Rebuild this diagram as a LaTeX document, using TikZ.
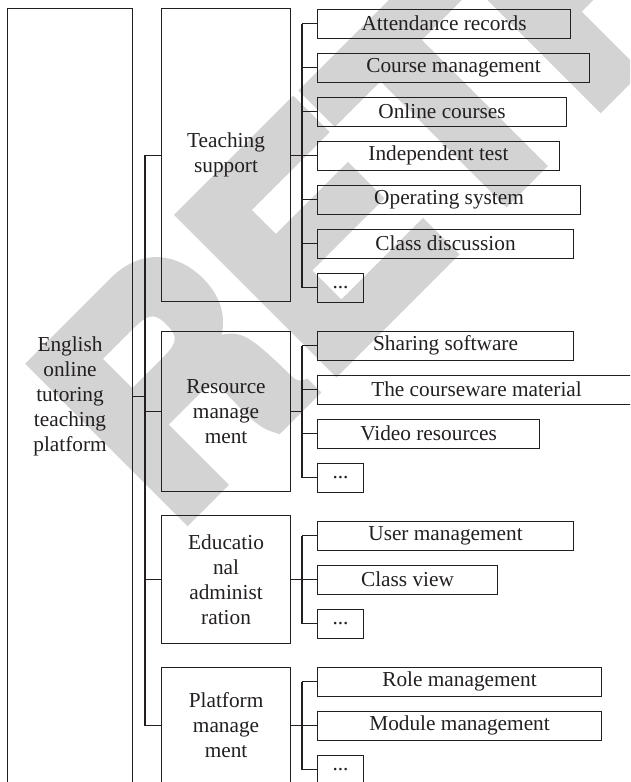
\documentclass[tikz,border=0pt]{standalone}
\usepackage{graphicx}
\usepackage{fontspec}
\setmainfont{Liberation Serif}
\newfontfamily\stampfont{texgyreheros-bold.otf}[FakeBold=5]
\definecolor{stamp}{RGB}{211,211,211}
\definecolor{ink}{RGB}{35,31,32}
\begin{document}
\begin{tikzpicture}[x=1pt,y=-1pt,
  box/.style={draw=ink, line width=1.1pt, inner sep=0pt, anchor=north west,
    font=\fontsize{21.3}{25}\selectfont, text=ink, align=center},
  leaf/.style={box, minimum height=29pt},
  link/.style={draw=ink, line width=1.1pt}]
\useasboundingbox (0,0) rectangle (630,782);
\clip (0,0) rectangle (630,782);

% background stamp
\node[rotate=45, anchor=base west, inner sep=0pt, text=stamp,
  font=\stampfont\fontsize{295}{295}\selectfont] (stampword) at (171,532.5)
  {\scalebox{0.99}[1]{RETRACTED}};

% root
\node[box, minimum width=125pt, minimum height=776pt] (root) at (7,8)
  {English\\online\\tutoring\\teaching\\platform};

% second level
\node[box, minimum width=129pt, minimum height=293pt] (teach) at (161,8) {Teaching\\support};
\node[box, minimum width=129pt, minimum height=160pt] (res) at (161,331) {Resource\\manage\\ment};
\node[box, minimum width=129pt, minimum height=128pt] (edu) at (161,515) {Educatio\\nal\\administ\\ration};
\node[box, minimum width=129pt, minimum height=116pt] (plat) at (161,667) {Platform\\manage\\ment};

% leaves: teaching support
\node[leaf, minimum width=253pt] (t1) at (317,8.5) {Attendance records};
\node[leaf, minimum width=272pt] (t2) at (317,52.5) {Course management};
\node[leaf, minimum width=249pt] (t3) at (317,96.5) {Online courses};
\node[leaf, minimum width=242pt] (t4) at (317,140.5) {Independent test};
\node[leaf, minimum width=263pt] (t5) at (317,184.5) {Operating system};
\node[leaf, minimum width=256pt] (t6) at (317,228.5) {Class discussion};
\node[leaf, minimum width=46pt] (t7) at (317,272.5) {...};

% leaves: resource management
\node[leaf, minimum width=256pt] (r1) at (317,330.5) {Sharing software};
\node[leaf, minimum width=318pt] (r2) at (317,374.5) {The courseware material};
\node[leaf, minimum width=222pt] (r3) at (317,418.5) {Video resources};
\node[leaf, minimum width=46pt] (r4) at (317,462.5) {...};

% leaves: educational administration
\node[leaf, minimum width=256pt] (e1) at (317,520.5) {User management};
\node[leaf, minimum width=180pt] (e2) at (317,564.5) {Class view};
\node[leaf, minimum width=46pt] (e3) at (317,608.5) {...};

% leaves: platform management
\node[leaf, minimum width=284pt] (p1) at (317,666.5) {Role management};
\node[leaf, minimum width=284pt] (p2) at (317,710.5) {Module management};
\node[leaf, minimum width=46pt] (p3) at (317,754.5) {...};

% trunk from the root
\coordinate (trunk) at (145,0);
\draw[link] (root.east) -- (trunk |- root.east);
\draw[link] (trunk |- teach.west) -- (trunk |- plat.west);
\foreach \b in {teach,res,edu,plat}
  \draw[link] (trunk |- \b.west) -- (\b.west);

% buses to the leaves
\coordinate (bus) at (302,0);
\foreach \b/\first/\last/\list in {teach/t1/t7/{t1,t2,t3,t4,t5,t6,t7},
    res/r1/r4/{r1,r2,r3,r4}, edu/e1/e3/{e1,e2,e3}, plat/p1/p3/{p1,p2,p3}}{
  \draw[link] (\b.east) -- (bus |- \b.east);
  \draw[link] (bus |- \first.west) -- (bus |- \last.west);
  \foreach \l in \list
    \draw[link] (bus |- \l.west) -- (\l.west);
}
\end{tikzpicture}
\end{document}
